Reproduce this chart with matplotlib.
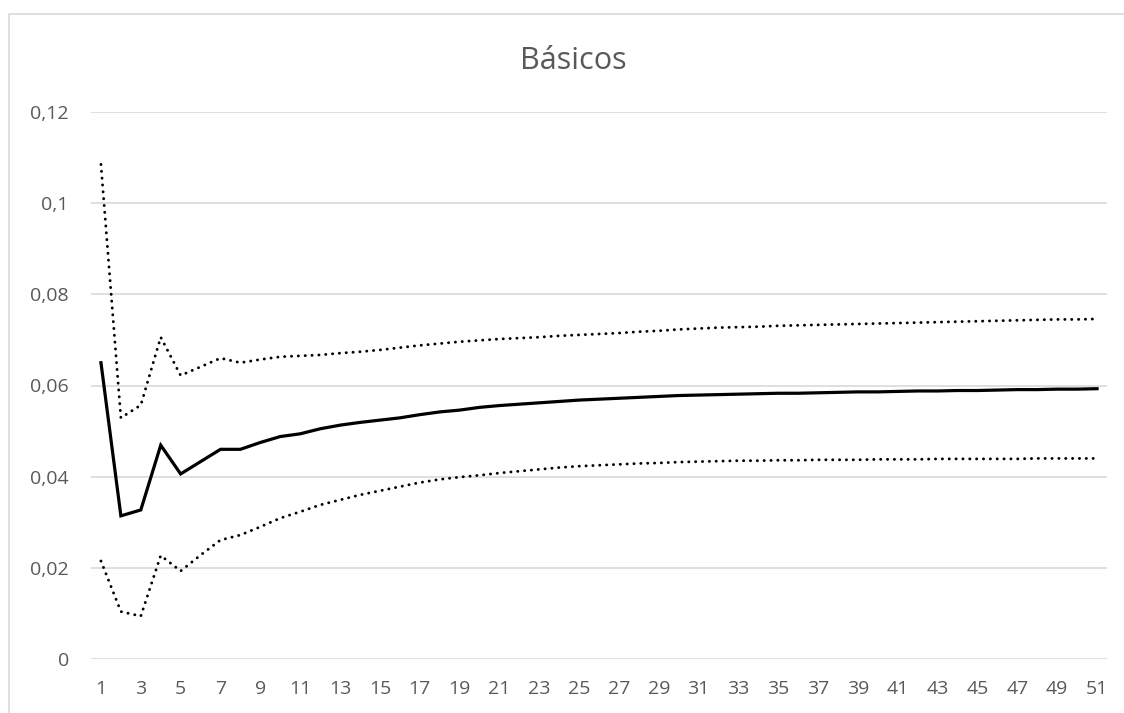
import matplotlib
matplotlib.use("Agg")
import matplotlib.pyplot as plt
from matplotlib.patches import Rectangle
from matplotlib.ticker import FuncFormatter

plt.rcParams["font.family"] = ["Open Sans", "DejaVu Sans"]

periodos = list(range(1, 52))

central = [0.0650, 0.0314, 0.0327, 0.0469, 0.0406, 0.0433, 0.0460, 0.0460, 0.0475, 0.0488,
           0.0494, 0.0505, 0.0513, 0.0519, 0.0524, 0.0529, 0.0536, 0.0542, 0.0546, 0.0552,
           0.0556, 0.0559, 0.0562, 0.0565, 0.0568, 0.0570, 0.0572, 0.0574, 0.0576, 0.0578,
           0.0579, 0.0580, 0.0581, 0.0582, 0.0583, 0.0583, 0.0584, 0.0585, 0.0586, 0.0586,
           0.0587, 0.0588, 0.0588, 0.0589, 0.0589, 0.0590, 0.0591, 0.0591, 0.0592, 0.0592,
           0.0593]

superior = [0.1085, 0.0529, 0.0557, 0.0706, 0.0622, 0.0641, 0.0660, 0.0650, 0.0657, 0.0663,
            0.0665, 0.0667, 0.0671, 0.0674, 0.0678, 0.0683, 0.0688, 0.0692, 0.0696, 0.0699,
            0.0702, 0.0704, 0.0706, 0.0709, 0.0711, 0.0713, 0.0715, 0.0718, 0.0720, 0.0723,
            0.0725, 0.0727, 0.0728, 0.0729, 0.0731, 0.0732, 0.0733, 0.0734, 0.0735, 0.0736,
            0.0737, 0.0738, 0.0739, 0.0740, 0.0741, 0.0742, 0.0743, 0.0744, 0.0745, 0.0745,
            0.0746]

inferior = [0.0215, 0.0104, 0.0094, 0.0227, 0.0193, 0.0228, 0.0261, 0.0272, 0.0290, 0.0309,
            0.0323, 0.0338, 0.0349, 0.0360, 0.0369, 0.0378, 0.0387, 0.0394, 0.0399, 0.0403,
            0.0408, 0.0412, 0.0416, 0.0420, 0.0423, 0.0425, 0.0427, 0.0429, 0.0430, 0.0432,
            0.0433, 0.0434, 0.0435, 0.0435, 0.0436, 0.0436, 0.0437, 0.0437, 0.0437, 0.0438,
            0.0438, 0.0438, 0.0439, 0.0439, 0.0439, 0.0439, 0.0439, 0.0440, 0.0440, 0.0440,
            0.0440]

y_ticks = [0, 0.02, 0.04, 0.06, 0.08, 0.1, 0.12]

gris = "#595959"
rejilla = "#d9d9d9"

fig = plt.figure(figsize=(11.24, 7.13), dpi=100)
ax = fig.add_axes([91 / 1124, 1 - 659 / 713, 1016 / 1124, 547 / 713])

# marco del area del grafico
fig.patches.append(Rectangle((8.5 / 1124, -0.05), 1.2, 1 - 13.5 / 713 + 0.05,
                             transform=fig.transFigure, fill=False,
                             edgecolor=rejilla, linewidth=1.2))

ax.plot(periodos, superior, color="black", linewidth=2.1,
        linestyle=(0, (0.05, 2.3)), dash_capstyle="round")
ax.plot(periodos, inferior, color="black", linewidth=2.1,
        linestyle=(0, (0.05, 2.3)), dash_capstyle="round")
ax.plot(periodos, central, color="black", linewidth=2.3, solid_joinstyle="miter")

ax.set_xlim(0.5, 51.5)
ax.set_ylim(0, 0.12)
ax.set_xticks(periodos[::2])
ax.set_yticks(y_ticks)
ax.yaxis.set_major_formatter(FuncFormatter(lambda v, p: ("%g" % round(v, 2)).replace(".", ",")))

ax.grid(axis="y", color=rejilla, linewidth=1.2)
ax.set_axisbelow(True)
for s in ax.spines.values():
    s.set_visible(False)
ax.tick_params(axis="both", length=0, labelsize=14, labelcolor=gris)
ax.tick_params(axis="y", pad=16)
ax.tick_params(axis="x", pad=15)

fig.text(573 / 1124, 1 - 69 / 713, "Básicos", ha="center", va="baseline",
         fontsize=22, color=gris)

fig.savefig("out.png", dpi=100)
